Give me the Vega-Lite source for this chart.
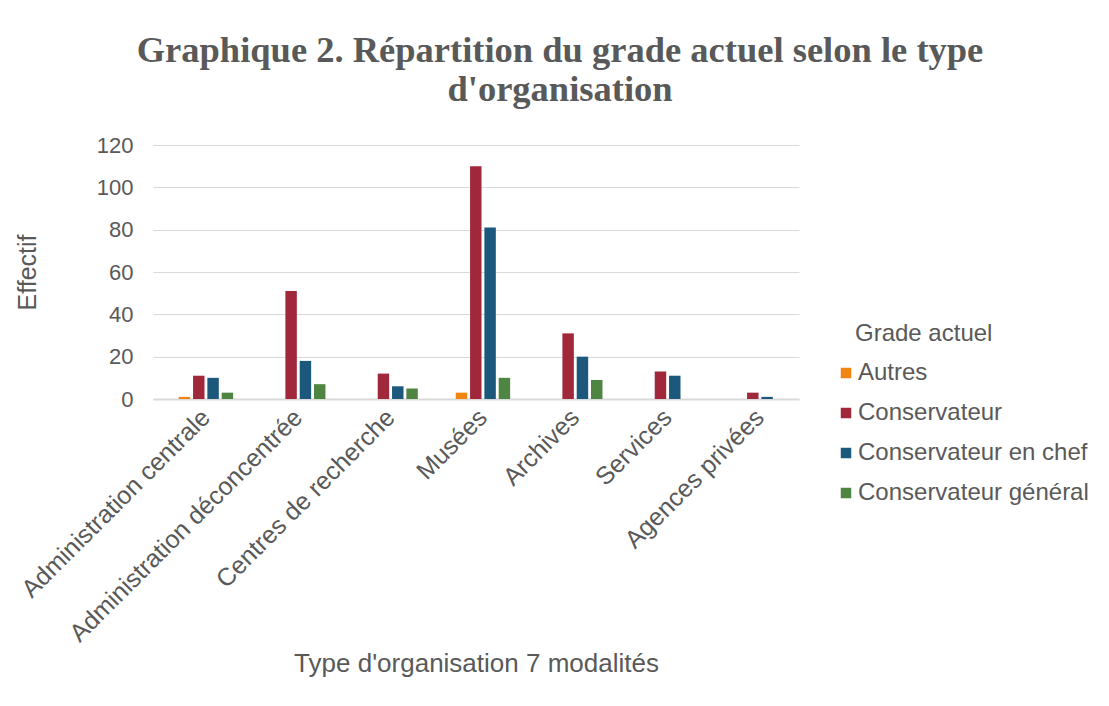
{
  "$schema": "https://vega.github.io/schema/vega-lite/v6.json",
  "width": 646,
  "height": 254,
  "autosize": {"type": "none"},
  "padding": {"left": 153, "top": 145, "right": 310, "bottom": 307},
  "background": "white",
  "title": {
    "text": ["Graphique 2. Répartition du grade actuel selon le type", "d'organisation"],
    "font": "Liberation Serif",
    "fontSize": 36.5,
    "fontWeight": "bold",
    "color": "#595959",
    "anchor": "middle",
    "dx": 84,
    "offset": 26,
    "lineHeight": 39
  },
  "data": {
    "values": [
      {"org": "Administration centrale", "grade": "Autres", "n": 1},
      {"org": "Administration centrale", "grade": "Conservateur", "n": 11},
      {"org": "Administration centrale", "grade": "Conservateur en chef", "n": 10},
      {"org": "Administration centrale", "grade": "Conservateur général", "n": 3},
      {"org": "Administration déconcentrée", "grade": "Autres", "n": 0},
      {"org": "Administration déconcentrée", "grade": "Conservateur", "n": 51},
      {"org": "Administration déconcentrée", "grade": "Conservateur en chef", "n": 18},
      {"org": "Administration déconcentrée", "grade": "Conservateur général", "n": 7},
      {"org": "Centres de recherche", "grade": "Autres", "n": 0},
      {"org": "Centres de recherche", "grade": "Conservateur", "n": 12},
      {"org": "Centres de recherche", "grade": "Conservateur en chef", "n": 6},
      {"org": "Centres de recherche", "grade": "Conservateur général", "n": 5},
      {"org": "Musées", "grade": "Autres", "n": 3},
      {"org": "Musées", "grade": "Conservateur", "n": 110},
      {"org": "Musées", "grade": "Conservateur en chef", "n": 81},
      {"org": "Musées", "grade": "Conservateur général", "n": 10},
      {"org": "Archives", "grade": "Autres", "n": 0},
      {"org": "Archives", "grade": "Conservateur", "n": 31},
      {"org": "Archives", "grade": "Conservateur en chef", "n": 20},
      {"org": "Archives", "grade": "Conservateur général", "n": 9},
      {"org": "Services", "grade": "Autres", "n": 0},
      {"org": "Services", "grade": "Conservateur", "n": 13},
      {"org": "Services", "grade": "Conservateur en chef", "n": 11},
      {"org": "Services", "grade": "Conservateur général", "n": 0},
      {"org": "Agences privées", "grade": "Autres", "n": 0},
      {"org": "Agences privées", "grade": "Conservateur", "n": 3},
      {"org": "Agences privées", "grade": "Conservateur en chef", "n": 1},
      {"org": "Agences privées", "grade": "Conservateur général", "n": 0}
    ]
  },
  "mark": {"type": "bar"},
  "encoding": {
    "x": {
      "field": "org",
      "type": "nominal",
      "sort": null,
      "scale": {"paddingInner": 0.38, "paddingOuter": 0.188, "align": 0.7},
      "axis": {
        "title": "Type d'organisation 7 modalités",
        "labelAngle": -45,
        "labelAlign": "right",
        "labelBaseline": "middle",
        "labelFont": "Liberation Sans",
        "labelFontSize": 25,
        "labelColor": "#595959",
        "labelPadding": 14,
        "labelLimit": 400,
        "ticks": false,
        "domainColor": "#D9D9D9",
        "domainWidth": 2,
        "titleFont": "Liberation Sans",
        "titleFontSize": 26,
        "titleFontWeight": "normal",
        "titleColor": "#595959",
        "titleBaseline": "middle",
        "titleX": 323,
        "titleY": 264
      }
    },
    "xOffset": {
      "field": "grade",
      "type": "nominal",
      "scale": {"paddingInner": 0.2, "paddingOuter": 0.1}
    },
    "y": {
      "field": "n",
      "type": "quantitative",
      "scale": {"domain": [0, 120]},
      "axis": {
        "title": "Effectif",
        "values": [0, 20, 40, 60, 80, 100, 120],
        "domain": false,
        "ticks": false,
        "gridColor": "#D9D9D9",
        "labelFont": "Liberation Sans",
        "labelFontSize": 22,
        "labelColor": "#595959",
        "labelPadding": 20,
        "titleFont": "Liberation Sans",
        "titleFontSize": 25,
        "titleFontWeight": "normal",
        "titleColor": "#595959",
        "titlePadding": 56
      }
    },
    "color": {
      "field": "grade",
      "type": "nominal",
      "scale": {
        "domain": ["Autres", "Conservateur", "Conservateur en chef", "Conservateur général"],
        "range": ["#F28410", "#A1283A", "#1C587C", "#4E8542"]
      },
      "legend": {
        "title": "Grade actuel",
        "orient": "none",
        "legendX": 681,
        "legendY": 177,
        "symbolType": "square",
        "symbolSize": 110,
        "symbolStrokeWidth": 0,
        "labelFont": "Liberation Sans",
        "labelFontSize": 24,
        "labelColor": "#595959",
        "titleFont": "Liberation Sans",
        "titleFontSize": 24,
        "titleFontWeight": "normal",
        "titleColor": "#595959",
        "titlePadding": 15,
        "rowPadding": 16,
        "labelOffset": 0,
        "titleLimit": 300,
        "labelLimit": 300,
        "encode": {"title": {"update": {"dx": {"value": 21}}}}
      }
    }
  },
  "config": {"view": {"stroke": null}}
}
